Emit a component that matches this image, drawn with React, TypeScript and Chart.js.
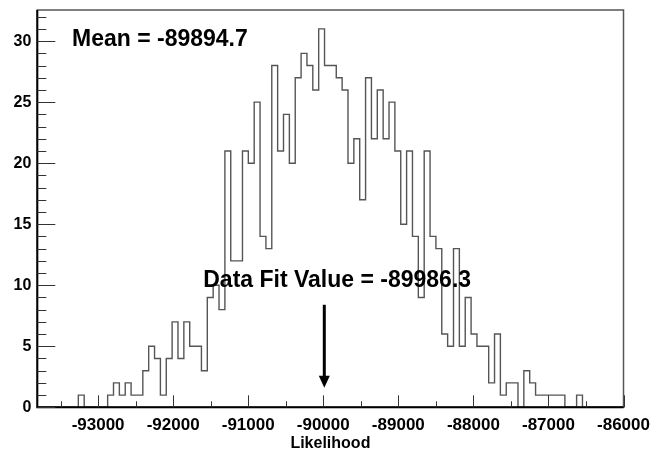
import React, { useEffect, useRef } from 'react';
import { Chart, registerables } from 'chart.js';

Chart.register(...registerables);

// Histogram binning (Likelihood axis)
const binMin = -93810;
const binWidth = 78.1;
const xMin = -93810;
const xMax = -86000;
const yMax = 32.55;

// Entries per bin (100 bins)
const counts = [
  0, 0, 0, 0, 0, 0, 0, 1, 0, 0,
  0, 0, 1, 2, 1, 2, 1, 1, 3, 5,
  4, 1, 4, 7, 4, 7, 5, 5, 3, 9,
  10, 8, 21, 12, 12, 21, 20, 25, 14, 13,
  28, 21, 24, 20, 27, 29, 28, 26, 31, 28,
  28, 27, 26, 20, 22, 17, 27, 22, 26, 22,
  25, 21, 15, 21, 14, 9, 21, 14, 13, 6,
  5, 13, 5, 9, 6, 5, 5, 2, 6, 1,
  2, 2, 0, 3, 2, 1, 1, 1, 1, 1,
  0, 0, 1, 0, 0, 0, 0, 0, 0, 0,
];

const xTickValues = [-93000, -92000, -91000, -90000, -89000, -88000, -87000, -86000];
const yTickValues = [0, 5, 10, 15, 20, 25, 30];

const xTitle = 'Likelihood';
const meanValue = -89894.7;
const meanLabel = `Mean = ${meanValue}`;
const fitValue = -89986.3;
const fitLabel = `Data Fit Value = ${fitValue}`;

// annotation anchors in data units
const meanLabelAt = { x: -93348, y: 29.6 };
const fitLabelAt = { x: -91599, y: 9.85 };
const arrowFrom = 8.4;
const arrowTo = 1.6;

const FONT = "'Liberation Sans', Arial, Helvetica, sans-serif";

export default function App() {
  const ref = useRef<HTMLCanvasElement>(null);

  useEffect(() => {
    const canvas = ref.current;
    if (!canvas) return;

    const pts: { x: number; y: number }[] = [];
    counts.forEach((c, i) => {
      pts.push({ x: binMin + i * binWidth, y: c });
      pts.push({ x: binMin + (i + 1) * binWidth, y: c });
    });

    const overlay = {
      id: 'rootStyle',
      afterDatasetsDraw(chart: any) {
        const { ctx, chartArea: a, scales } = chart;
        const xs = scales.x;
        const ys = scales.y;
        ctx.save();
        // frame
        ctx.strokeStyle = '#555';
        ctx.lineWidth = 1.5;
        ctx.strokeRect(a.left, a.top, a.right - a.left, a.bottom - a.top);
        ctx.strokeStyle = '#000';
        ctx.lineWidth = 2;
        ctx.beginPath();
        ctx.moveTo(a.left, a.top);
        ctx.lineTo(a.left, a.bottom);
        ctx.lineTo(a.right, a.bottom);
        ctx.stroke();

        // inward ticks
        ctx.strokeStyle = '#333';
        ctx.lineWidth = 1;
        ctx.beginPath();
        for (let v = Math.ceil(xMin / 500) * 500; v <= xMax; v += 500) {
          const px = Math.round(xs.getPixelForValue(v)) + 0.5;
          const len = v % 1000 === 0 ? 12 : 6;
          ctx.moveTo(px, a.bottom);
          ctx.lineTo(px, a.bottom - len);
        }
        for (let v = 0; v <= yMax; v += 1) {
          const py = Math.round(ys.getPixelForValue(v)) + 0.5;
          const len = v % 5 === 0 ? 18 : 9;
          ctx.moveTo(a.left, py);
          ctx.lineTo(a.left + len, py);
        }
        ctx.stroke();

        // arrow
        const ax = xs.getPixelForValue(fitValue);
        const ay0 = ys.getPixelForValue(arrowFrom);
        const ay1 = ys.getPixelForValue(arrowTo);
        ctx.strokeStyle = '#000';
        ctx.fillStyle = '#000';
        ctx.lineWidth = 3;
        ctx.beginPath();
        ctx.moveTo(ax, ay0);
        ctx.lineTo(ax, ay1 - 10);
        ctx.stroke();
        ctx.beginPath();
        ctx.moveTo(ax - 5.5, ay1 - 12);
        ctx.lineTo(ax + 5.5, ay1 - 12);
        ctx.lineTo(ax, ay1);
        ctx.closePath();
        ctx.fill();

        // labels
        ctx.font = `bold 23px ${FONT}`;
        ctx.textAlign = 'left';
        ctx.textBaseline = 'alphabetic';
        ctx.fillText(meanLabel, xs.getPixelForValue(meanLabelAt.x), ys.getPixelForValue(meanLabelAt.y));
        ctx.fillText(fitLabel, xs.getPixelForValue(fitLabelAt.x), ys.getPixelForValue(fitLabelAt.y));
        ctx.restore();
      },
    };

    const chart = new Chart(canvas, {
      type: 'line',
      data: {
        datasets: [
          {
            data: pts,
            borderColor: '#555',
            borderWidth: 1.4,
            pointRadius: 0,
            fill: false,
            tension: 0,
          },
        ],
      },
      options: {
        animation: false,
        responsive: false,
        devicePixelRatio: 1,
        layout: { padding: { top: 10, right: 29.5, left: 0, bottom: 0 } },
        plugins: { legend: { display: false }, tooltip: { enabled: false } },
        scales: {
          x: {
            type: 'linear',
            min: xMin,
            max: xMax,
            grid: { display: false, drawTicks: false },
            border: { display: false },
            afterBuildTicks: (s: any) => {
              s.ticks = xTickValues.map((v) => ({ value: v }));
            },
            ticks: {
              padding: 8,
              autoSkip: false,
              maxRotation: 0,
              color: '#000',
              font: { family: FONT, size: 17, weight: 'bold' },
              callback: (v: any) => String(v),
            },
            title: {
              display: true,
              text: xTitle,
              color: '#000',
              font: { family: FONT, size: 16, weight: 'bold' },
              padding: { top: 0, bottom: 0 },
            },
            afterFit: (s: any) => {
              s.height = 45.7;
              s.paddingLeft = 0;
              s.paddingRight = 0;
            },
          },
          y: {
            type: 'linear',
            min: 0,
            max: yMax,
            grid: { display: false, drawTicks: false },
            border: { display: false },
            afterBuildTicks: (s: any) => {
              s.ticks = yTickValues.map((v) => ({ value: v }));
            },
            ticks: {
              padding: 6,
              color: '#000',
              font: { family: FONT, size: 16, weight: 'bold' },
              callback: (v: any) => String(v),
            },
            afterFit: (s: any) => {
              s.width = 37.3;
              s.paddingTop = 0;
              s.paddingBottom = 0;
            },
          },
        },
      },
      plugins: [overlay],
    });
    return () => chart.destroy();
  }, []);

  return (
    <div style={{ position: 'fixed', left: 0, top: 0, width: 653, height: 453, background: '#fff' }}>
      <canvas ref={ref} width={653} height={453} />
    </div>
  );
}
